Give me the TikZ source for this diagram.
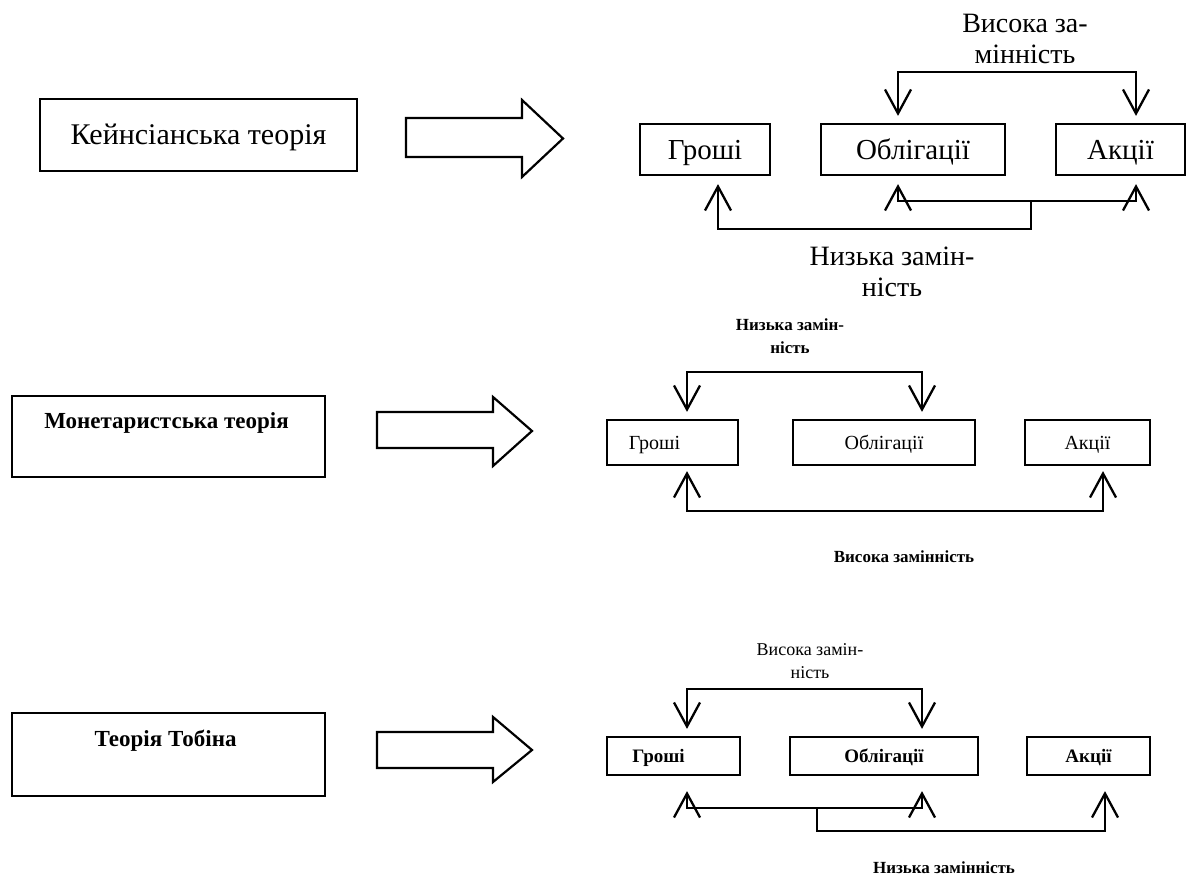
\documentclass[tikz,border=0pt]{standalone}
\usepackage{fontspec}
\setmainfont{Liberation Serif}
\usetikzlibrary{arrows.meta,calc}
\tikzset{
  box/.style={draw, line width=2.2pt, inner sep=0pt, text depth=0pt},
  conn/.style={line width=2.3pt, line join=miter},
  arr/.style={-{Straight Barb[length=24pt,width=26pt]}},
  dbl/.style={{Straight Barb[length=24pt,width=26pt]}-{Straight Barb[length=24pt,width=26pt]}},
  blockarrow/.style={draw, line width=2.2pt, line join=miter, fill=white},
  keyfont/.style={font=\fontsize{30}{32}\selectfont, text height=19.8pt},
  bigbox/.style={font=\fontsize{29}{31}\selectfont, text height=19.1pt},
  bigtxt/.style={font=\fontsize{28}{31}\selectfont, align=center, inner sep=0pt},
  midtxt/.style={font=\fontsize{20}{22}\selectfont, text height=13.2pt},
  boldbox/.style={font=\bfseries\fontsize{19}{21}\selectfont, text height=12.6pt},
  theory/.style={font=\bfseries\fontsize{23}{25}\selectfont, inner sep=0pt},
  small/.style={font=\bfseries\fontsize{17}{23}\selectfont, align=center, inner sep=0pt},
  smallreg/.style={font=\fontsize{18}{23}\selectfont, align=center, inner sep=0pt},
}
\begin{document}
\begin{tikzpicture}[x=1pt,y=-1pt]
\fill[white] (0,0) rectangle (1191,890);
\useasboundingbox (0,0) rectangle (1191,890);

% ---------------- Top: Keynes ----------------
\node[box, keyfont, minimum width=317pt, minimum height=72pt] (keyn) at (198.5,135) {Кейнсіанська теорія};
\draw[blockarrow] (406,118) -- (522,118) -- (522,100) -- (563,138.5) -- (522,177) -- (522,157) -- (406,157) -- cycle;

\node[box, bigbox, minimum width=130pt, minimum height=51pt] (gr1) at (705,149.5) {Гроші};
\node[box, bigbox, minimum width=184pt, minimum height=51pt] (ob1) at (913,149.5) {Облігації};
\node[box, bigbox, minimum width=129pt, minimum height=51pt] (ak1) at (1120.5,149.5) {Акції};

\draw[conn, dbl] ($(ob1.north)+(-15,-7)$) -- ++(0,-44) -| ($(ak1.north)+(15.5,-7)$);
\draw[conn, dbl] ($(ob1.south)+(-15,8)$) -- ++(0,17) -| ($(ak1.south)+(15.5,8)$);
\draw[conn, arr] ($(ob1.south)+(118,25)$) -- ++(0,28) -| ($(gr1.south)+(13,8)$);

\node[bigtxt] (l1a) at (1025,39) {Висока за-\\мінність};
\node[bigtxt] (l1b) at (892,272) {Низька замін-\\ність};

% ---------------- Middle: Monetarist ----------------
\node[box, minimum width=313pt, minimum height=81pt] (mon) at (168.5,436.5) {};
\node[theory] (monT) at ($(mon.center)+(-2,-14)$) {Монетаристська теорія};
\draw[blockarrow] (377,412) -- (493,412) -- (493,397) -- (532,431) -- (493,466) -- (493,448) -- (377,448) -- cycle;

\node[box, midtxt, minimum width=131pt, minimum height=45pt] (gr2) at (672.5,442.5) {\hspace*{-36pt}Гроші};
\node[box, midtxt, minimum width=182pt, minimum height=45pt] (ob2) at (884,442.5) {Облігації};
\node[box, midtxt, minimum width=125pt, minimum height=45pt] (ak2) at (1087.5,442.5) {Акції};

\draw[conn, dbl] ($(gr2.north)+(14.5,-7)$) -- ++(0,-40) -| ($(ob2.north)+(38,-7)$);
\draw[conn, dbl] ($(gr2.south)+(14.5,5)$) -- ++(0,40) -| ($(ak2.south)+(15.5,5)$);

\node[small] (l2a) at (790,336.5) {Низька замін-\\ність};
\node[small] (l2b) at (904,557) {Висока замінність};

% ---------------- Bottom: Tobin ----------------
\node[box, minimum width=313pt, minimum height=83pt] (tob) at (168.5,754.5) {};
\node[theory] (tobT) at ($(tob.center)+(-3,-14)$) {Теорія Тобіна};
\draw[blockarrow] (377,732) -- (493,732) -- (493,717) -- (532,750) -- (493,782) -- (493,768) -- (377,768) -- cycle;

\node[box, boldbox, minimum width=133pt, minimum height=38pt] (gr3) at (673.5,756) {\hspace*{-30pt}Гроші};
\node[box, boldbox, minimum width=188pt, minimum height=38pt] (ob3) at (884,756) {Облігації};
\node[box, boldbox, minimum width=123pt, minimum height=38pt] (ak3) at (1088.5,756) {Акції};

\draw[conn, dbl] ($(gr3.north)+(13.5,-7)$) -- ++(0,-40) -| ($(ob3.north)+(38,-7)$);
\draw[conn, dbl] ($(gr3.south)+(13.5,15)$) -- ++(0,17) -| ($(ob3.south)+(38,15)$);
\draw[conn, arr] ($(ob3.south)+(-67,32)$) -- ++(0,23) -| ($(ak3.south)+(16.5,15)$);

\node[smallreg] (l3a) at (810,661.5) {Висока замін-\\ність};
\node[small] (l3b) at (944,868) {Низька замінність};
\end{tikzpicture}
\end{document}
